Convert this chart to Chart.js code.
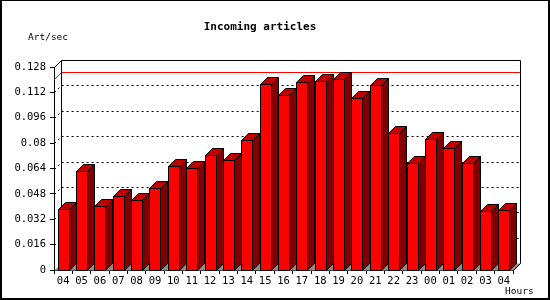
<!DOCTYPE html>
<html>
<head>
<meta charset="utf-8">
<script src="https://cdn.jsdelivr.net/npm/chart.js@4/dist/chart.umd.min.js"></script>
<style>
  html, body { margin: 0; padding: 0; background: #ffffff; }
  #wrap { width: 550px; height: 300px; position: relative; }
</style>
</head>
<body>
<div id="wrap"><canvas id="c" width="550" height="300"></canvas></div>
<script>
// ---- data ----
const chartTitle = "Incoming articles";
const yUnitLabel = "Art/sec";
const xUnitLabel = "Hours";
const hours = ["04","05","06","07","08","09","10","11","12","13","14","15","16","17","18","19","20","21","22","23","00","01","02","03","04"];
const artPerSec = [0.0385,0.0627,0.0406,0.0469,0.0442,0.0520,0.0653,0.0644,0.0726,0.0695,0.0821,0.1175,0.1105,0.1188,0.1194,0.1207,0.1084,0.1169,0.0865,0.0676,0.0828,0.0771,0.0676,0.0370,0.0379];
const yMin = 0, yMax = 0.128, yStep = 0.016;

// ---- style ----
const DX = 7, DY = 7;
const FRONT = "#ff0000", TOP = "#c00000", SIDE = "#800000", FLOOR = "#8c8c8c";
const MONO = "'DejaVu Sans Mono', 'Liberation Mono', monospace";

const threeD = {
  id: "threeD",
  beforeDatasetsDraw(chart) {
    const ctx = chart.ctx, a = chart.chartArea;
    const ys = chart.scales.y;
    const L = a.left + 0.5, R = a.right + 0.5;
    const y0 = Math.round(ys.getPixelForValue(yMin)) + 0.5;
    const yTop = Math.round(ys.getPixelForValue(yMax)) + 0.5;
    ctx.save();
    // floor
    ctx.fillStyle = FLOOR;
    ctx.beginPath();
    ctx.moveTo(L, y0); ctx.lineTo(L + DX, y0 - DY); ctx.lineTo(R + DX, y0 - DY); ctx.lineTo(R, y0);
    ctx.closePath(); ctx.fill();
    // dotted gridlines on the back wall
    ctx.strokeStyle = "#000"; ctx.lineWidth = 1; ctx.setLineDash([2, 3]);
    for (let v = yStep; v < yMax - 1e-9; v += yStep) {
      const y = Math.round(ys.getPixelForValue(v)) + 0.5;
      ctx.beginPath();
      ctx.moveTo(L, y); ctx.lineTo(L + DX, y - DY); ctx.lineTo(R + DX, y - DY);
      ctx.stroke();
    }
    ctx.setLineDash([]);
    // max line
    const mx = Math.max(...artPerSec);
    const ym = Math.round(ys.getPixelForValue(mx)) + 0.5;
    ctx.strokeStyle = "#ff0000";
    ctx.beginPath();
    ctx.moveTo(L, ym); ctx.lineTo(L + DX, ym - DY); ctx.lineTo(R + DX, ym - DY);
    ctx.stroke();
    // back wall frame
    ctx.strokeStyle = "#000";
    ctx.beginPath();
    ctx.moveTo(L, yTop); ctx.lineTo(L + DX, yTop - DY); ctx.lineTo(R + DX, yTop - DY);
    ctx.lineTo(R + DX, y0 - DY); ctx.lineTo(R, y0);
    ctx.moveTo(L + DX, yTop - DY); ctx.lineTo(L + DX, y0 - DY);
    ctx.stroke();
    ctx.restore();
  },
  afterDatasetsDraw(chart) {
    const ctx = chart.ctx;
    const meta = chart.getDatasetMeta(0);
    ctx.save();
    ctx.lineWidth = 1; ctx.strokeStyle = "#000"; ctx.lineJoin = "miter";
    meta.data.forEach(el => {
      const p = el.getProps(["x", "y", "base", "width"], true);
      const l = Math.round(p.x - p.width / 2) + 0.5;
      const r = l + Math.round(p.width);
      const t = Math.round(p.y) + 0.5;
      const b = Math.round(p.base) + 0.5;
      // side
      ctx.fillStyle = SIDE;
      ctx.beginPath();
      ctx.moveTo(r, t); ctx.lineTo(r + DX, t - DY); ctx.lineTo(r + DX, b - DY); ctx.lineTo(r, b);
      ctx.closePath(); ctx.fill(); ctx.stroke();
      // top
      ctx.fillStyle = TOP;
      ctx.beginPath();
      ctx.moveTo(l, t); ctx.lineTo(l + DX, t - DY); ctx.lineTo(r + DX, t - DY); ctx.lineTo(r, t);
      ctx.closePath(); ctx.fill(); ctx.stroke();
      // front
      ctx.fillStyle = FRONT;
      ctx.fillRect(l, t, r - l, b - t);
      ctx.strokeRect(l, t, r - l, b - t);
    });
    ctx.restore();
  },
  afterDraw(chart) {
    const ctx = chart.ctx;
    ctx.save();
    ctx.fillStyle = "#000";
    ctx.textBaseline = "middle";
    ctx.font = "bold 11px " + MONO;
    ctx.textAlign = "center";
    ctx.fillText(chartTitle, 260, 27);
    ctx.font = "9.5px " + MONO;
    ctx.textAlign = "left";
    ctx.fillText(yUnitLabel, 28, 37.5);
    ctx.fillText(xUnitLabel, 505, 292);
    // outer frame
    ctx.fillRect(0, 0, 550, 1);
    ctx.fillRect(0, 0, 2, 300);
    ctx.fillRect(548, 0, 2, 300);
    ctx.fillRect(0, 298, 550, 2);
    ctx.restore();
  }
};

new Chart(document.getElementById("c"), {
  type: "bar",
  data: {
    labels: hours,
    datasets: [{
      label: yUnitLabel,
      data: artPerSec,
      backgroundColor: "rgba(0,0,0,0)",
      borderWidth: 0,
      barThickness: 11
    }]
  },
  options: {
    responsive: false,
    animation: false,
    devicePixelRatio: 1,
    layout: { padding: { left: 0, top: 67, right: 37, bottom: 0 } },
    plugins: { legend: { display: false }, tooltip: { enabled: false }, title: { display: false } },
    scales: {
      x: {
        offset: true,
        grid: { offset: true, drawOnChartArea: false, drawTicks: true, tickLength: 4, color: "#000" },
        border: { display: true, color: "#000" },
        ticks: { color: "#000", font: { family: MONO, size: 10.5 }, padding: 1, autoSkip: false, maxRotation: 0 },
        afterFit(s) { s.height = 30; }
      },
      y: {
        min: yMin, max: yMax,
        grid: { drawOnChartArea: false, drawTicks: true, tickLength: 4, color: "#000" },
        border: { display: true, color: "#000" },
        ticks: {
          stepSize: yStep, color: "#000", font: { family: MONO, size: 10.5 }, padding: 4,
          callback: v => String(parseFloat(Number(v).toFixed(3)))
        },
        afterFit(s) { s.width = 54; }
      }
    }
  },
  plugins: [threeD]
});
</script>
</body>
</html>
